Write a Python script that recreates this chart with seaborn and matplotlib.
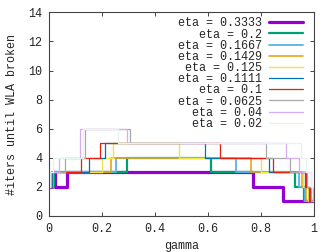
import matplotlib
matplotlib.use("Agg")
import matplotlib.pyplot as plt
import seaborn as sns
import pandas as pd
from matplotlib.ticker import FormatStrFormatter

# step curves: gamma where the value changes, and #iters from there on
eta_labels = ["0.3333", "0.2", "0.1667", "0.1429", "0.125",
              "0.1111", "0.1", "0.0625", "0.04", "0.02"]

gamma_03333 = [0, 0.01, 0.024, 0.069, 0.77, 0.883, 1.0]
iters_03333 = [2, 3, 2, 3, 2, 1, 1]

gamma_02 = [0, 0.02, 0.293, 0.61, 0.928, 0.962, 1.0]
iters_02 = [2, 3, 4, 3, 2, 1, 1]

gamma_01667 = [0, 0.015, 0.254, 0.706, 0.945, 0.966, 1.0]
iters_01667 = [2, 3, 4, 3, 2, 1, 1]

gamma_01429 = [0, 0.012, 0.233, 0.762, 0.955, 0.972, 1.0]
iters_01429 = [2, 3, 4, 3, 2, 1, 1]

gamma_0125 = [0, 0.01, 0.2, 0.243, 0.492, 0.799, 0.96, 0.976, 1.0]
iters_0125 = [2, 3, 4, 5, 4, 3, 2, 1, 1]

gamma_01111 = [0, 0.01, 0.153, 0.213, 0.589, 0.831, 0.965, 0.98, 1.0]
iters_01111 = [2, 3, 4, 5, 4, 3, 2, 1, 1]

gamma_01 = [0, 0.008, 0.122, 0.191, 0.645, 0.847, 0.97, 0.985, 1.0]
iters_01 = [2, 3, 4, 5, 4, 3, 2, 1, 1]

gamma_00625 = [0, 0.008, 0.062, 0.137, 0.307, 0.821, 0.909, 0.975, 0.99, 1.0]
iters_00625 = [2, 3, 4, 6, 5, 4, 3, 2, 1, 1]

gamma_004 = [0, 0.006, 0.037, 0.118, 0.293, 0.894, 0.945, 0.99, 0.996, 1.0]
iters_004 = [2, 3, 4, 6, 5, 4, 3, 2, 1, 1]

gamma_002 = [0, 0.005, 0.015, 0.128, 0.262, 0.953, 0.97, 0.99, 1.0]
iters_002 = [2, 3, 4, 6, 5, 4, 3, 2, 2]

all_gamma = [gamma_03333, gamma_02, gamma_01667, gamma_01429, gamma_0125,
             gamma_01111, gamma_01, gamma_00625, gamma_004, gamma_002]
all_iters = [iters_03333, iters_02, iters_01667, iters_01429, iters_0125,
             iters_01111, iters_01, iters_00625, iters_004, iters_002]

colors = ["#9400D3", "#009E73", "#56B4E9", "#E69F00", "#F0E442",
          "#0072B2", "#E51E10", "#A8A8A8", "#D6ACF2", "#E4F4F2"]
widths = [2.3, 1.6, 1.3, 1.1, 1.0, 0.9, 0.9, 0.9, 0.9, 0.9]

sns.set_style("ticks")
plt.rcParams["font.family"] = ["Liberation Mono", "DejaVu Sans Mono"]
plt.rcParams["font.size"] = 8.5

fig = plt.figure(figsize=(3.35, 2.52), dpi=100)
ax = fig.add_axes([0.146, 0.143, 0.791, 0.808])

for lab, gx, gy, c, lw in zip(eta_labels, all_gamma, all_iters, colors, widths):
    df = pd.DataFrame({"gamma": gx, "iters": gy})
    sns.lineplot(data=df, x="gamma", y="iters", ax=ax, color=c, linewidth=lw,
                 drawstyle="steps-post", label=f"eta = {lab}", estimator=None)

ax.set_xlim(0, 1)
ax.set_ylim(0, 14)
ax.set_xticks([0, 0.2, 0.4, 0.6, 0.8, 1.0])
ax.set_yticks(range(0, 15, 2))
ax.xaxis.set_major_formatter(FormatStrFormatter("%g"))
ax.tick_params(direction="in", length=3, width=0.7, color="#444444",
               top=True, right=True, labelsize=8.5, pad=5)
for s in ax.spines.values():
    s.set_visible(True)
    s.set_color("#444444")
    s.set_linewidth(0.8)

ax.set_xlabel("gamma", fontsize=8.5, labelpad=4)
ax.set_ylabel("#iters until WLA broken", fontsize=8.5, labelpad=7)

ax.legend(loc="upper right", bbox_to_anchor=(0.985, 1.01), frameon=False,
          markerfirst=False, fontsize=8.5, handlelength=2.9,
          handletextpad=0.6, labelspacing=-0.07, borderpad=0.1,
          borderaxespad=0.5)

fig.savefig("out.png", dpi=100)
